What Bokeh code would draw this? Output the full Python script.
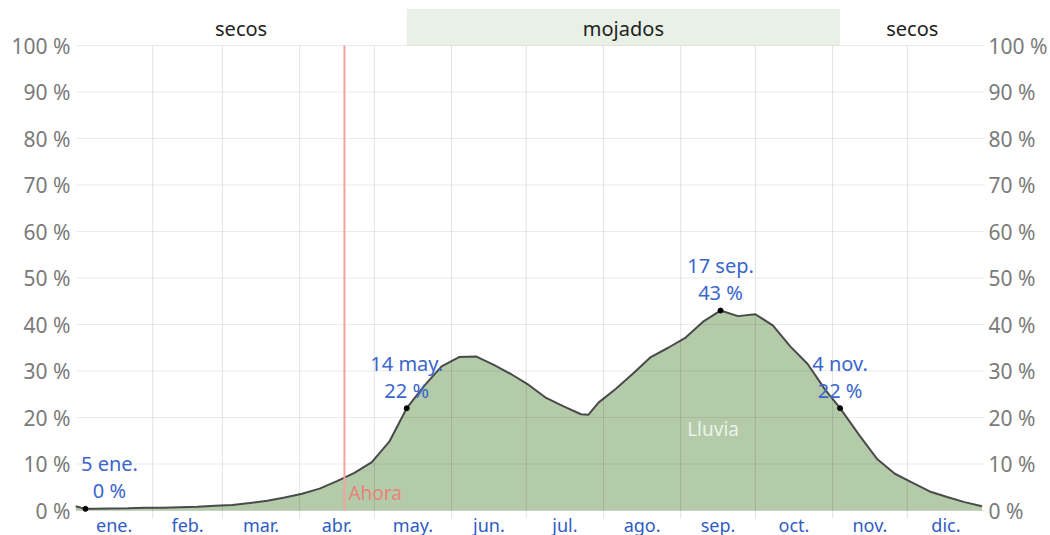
from bokeh.plotting import figure
from bokeh.models import Range1d, LinearAxis, FixedTicker
from bokeh.core.properties import value
from bokeh.embed import file_html
from bokeh.resources import INLINE

# ---------------- data ----------------
days = [0, 4, 7, 14, 21, 28, 35, 42, 49, 56, 63, 70, 77, 84, 91, 98, 105, 112,
        119, 126, 133, 140, 147, 154, 161, 168, 175, 182, 189, 196, 203, 206,
        210, 217, 224, 231, 238, 245, 252, 259, 266, 273, 280, 287, 294, 301,
        307, 315, 322, 329, 336, 343, 350, 357, 364]
rain_pct = [0.9, 0.35, 0.4, 0.45, 0.5, 0.6, 0.6, 0.7, 0.8, 1.0, 1.2, 1.6, 2.1,
            2.8, 3.6, 4.7, 6.3, 8.1, 10.4, 14.8, 22.0, 26.8, 31.0, 33.0, 33.1,
            31.3, 29.3, 27.0, 24.2, 22.4, 20.7, 20.6, 23.2, 26.2, 29.5, 33.0,
            35.0, 37.2, 40.6, 43.0, 41.8, 42.2, 39.8, 35.3, 31.5, 26.0, 22.0,
            16.0, 11.0, 7.9, 6.0, 4.1, 2.9, 1.8, 0.9]

month_labels = ["ene.", "feb.", "mar.", "abr.", "may.", "jun.",
                "jul.", "ago.", "sep.", "oct.", "nov.", "dic."]
month_starts = [0, 31, 59, 90, 120, 151, 181, 212, 243, 273, 304, 334]
year_days = 365

y_ticks = [0, 10, 20, 30, 40, 50, 60, 70, 80, 90, 100]

season_starts = [0, 133, 307]
season_ends = [133, 307, 365]
season_labels = ["secos", "mojados", "secos"]
season_wet = [False, True, False]

now_day = 108
now_label = "Ahora"

ann_days = [4, 133, 259, 307]
ann_values = [0.35, 22.0, 43.0, 22.0]
ann_dates = ["5 ene.", "14 may.", "17 sep.", "4 nov."]
ann_pct = ["0 %", "22 %", "43 %", "22 %"]

series_label = "Lluvia"
series_label_day = 256
series_label_pct = 17.6

# ---------------- styling ----------------
FONT = "Noto Sans"
PX_PER_PCT = 4.65
Y_TOP = 100 + 37 / PX_PER_PCT
Y_BOTTOM = -25 / PX_PER_PCT

p = figure(frame_width=909, frame_height=527,
           x_range=Range1d(0, year_days), y_range=Range1d(Y_BOTTOM, Y_TOP),
           x_axis_type=None, y_axis_type=None,
           output_backend="svg", toolbar_location=None,
           min_border_left=75, min_border_right=66,
           min_border_top=8, min_border_bottom=0)
p.outline_line_color = None
p.background_fill_color = "white"
p.border_fill_color = "white"

# season band
band_colors = ["#e9f0e6" if w else "white" for w in season_wet]
p.quad(left=season_starts, right=season_ends, bottom=100, top=Y_TOP,
       fill_color=band_colors, line_color=None)
season_centers = [(a + b) / 2 for a, b in zip(season_starts, season_ends)]
p.text(x=season_centers, y=100 + 17 / PX_PER_PCT, text=season_labels,
       text_align="center", text_baseline="middle",
       text_font=value(FONT), text_font_size="20px", text_color="#222222")

# area + line
p.varea(x=days, y1=0, y2=rain_pct, fill_color="#b4cbaa")
p.line(days, rain_pct, line_color="#4a4a4a", line_width=2)

# grid lines (drawn over the area, translucent)
p.segment(x0=0, x1=year_days, y0=y_ticks, y1=y_ticks,
          line_color="black", line_alpha=0.08, line_width=1)
p.segment(x0=month_starts[1:], x1=month_starts[1:],
          y0=-8 / PX_PER_PCT, y1=100,
          line_color="black", line_alpha=0.11, line_width=1)

# now line
p.segment(x0=[now_day], x1=[now_day], y0=[0], y1=[100],
          line_color="#f4a3a3", line_width=2)
p.text(x=[now_day], y=[0], text=[now_label], x_offset=[4], y_offset=[-18],
       text_align="left", text_baseline="middle",
       text_font=value(FONT), text_font_size="19px", text_color="#e8837b")

# series label
p.text(x=[series_label_day], y=[series_label_pct], text=[series_label],
       text_align="center", text_baseline="middle",
       text_font=value(FONT), text_font_size="19px",
       text_color="white", text_alpha=0.75)

# annotations
p.scatter(ann_days, ann_values, size=5, color="black")
ann_xoff = [24, 0, 0, 0]
p.text(x=ann_days, y=ann_values, text=ann_dates,
       x_offset=ann_xoff, y_offset=[-45] * 4,
       text_align="center", text_baseline="middle",
       text_font=value(FONT), text_font_size="20px", text_color="#3a66cc")
p.text(x=ann_days, y=ann_values, text=ann_pct,
       x_offset=ann_xoff, y_offset=[-18] * 4,
       text_align="center", text_baseline="middle",
       text_font=value(FONT), text_font_size="20px", text_color="#3a66cc")

# month labels
month_ends = month_starts[1:] + [year_days]
month_mids = [(a + b) / 2 for a, b in zip(month_starts, month_ends)]
p.text(x=month_mids, y=-14 / PX_PER_PCT, text=month_labels,
       text_align="center", text_baseline="alphabetic",
       text_font=value(FONT), text_font_size="18px", text_color="#2f5cc4")

# y axes
for side in ("left", "right"):
    ax = LinearAxis(ticker=FixedTicker(ticks=y_ticks),
                    major_label_overrides={t: f"{t} %" for t in y_ticks},
                    axis_line_color=None, major_tick_line_color=None,
                    minor_tick_line_color=None, major_tick_in=0, major_tick_out=0,
                    minor_tick_in=0, minor_tick_out=0,
                    major_label_standoff=5 if side == "left" else 4,
                    major_label_text_font=FONT,
                    major_label_text_font_size="21px",
                    major_label_text_color="#7a7a7a")
    p.add_layout(ax, side)

open("out.html", "w").write(file_html(p, INLINE))
